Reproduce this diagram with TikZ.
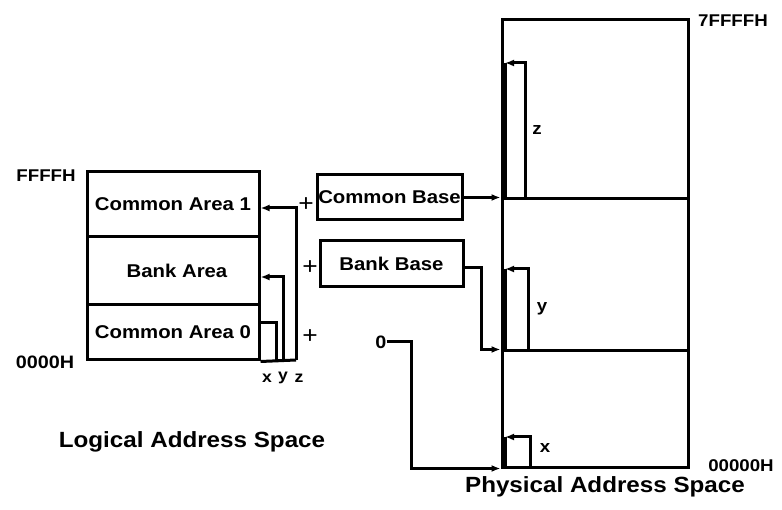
\documentclass[tikz,border=0pt]{standalone}
\usepackage{fontspec}
\setmainfont{Liberation Sans}[FakeStretch=1.1]
\usetikzlibrary{arrows.meta}
\tikzset{
  ln/.style={line width=3pt},
  arr/.style={ln,-{Latex[length=9pt,width=7pt]}},
  area/.style={draw,ln,inner sep=0pt,minimum width=172pt,font=\fontsize{18.5}{20}\selectfont\bfseries},
  phys/.style={draw,ln,inner sep=0pt,minimum width=186pt},
  basebox/.style={draw,ln,inner sep=0pt,font=\fontsize{18.5}{20}\selectfont\bfseries},
  lbl/.style={inner sep=0pt,font=\fontsize{17}{19}\selectfont\bfseries},
  small/.style={inner sep=0pt,font=\fontsize{16}{18}\selectfont\bfseries},
  title/.style={inner sep=0pt,anchor=base,font=\fontsize{22}{24}\selectfont\bfseries},
  plus/.style={inner sep=0pt,font=\fontsize{24}{26}\selectfont}
}
\begin{document}
\begin{tikzpicture}[x=1pt,y=-1pt]
\useasboundingbox (0,0) rectangle (782,510);
% logical space
\node[area,minimum height=65pt] (ca1) at (173,204.5) {Common Area 1};
\node[area,minimum height=68pt] (bank) at (173,271) {\hspace{8pt}Bank Area};
\node[area,minimum height=55pt] (ca0) at (173,332.5) {Common Area 0};
\node[lbl] (ffff) at (46,176) {FFFFH};
\node[lbl,font=\fontsize{18}{20}\selectfont\bfseries] (lo) at (45,362) {0000H};
\coordinate (xb) at (276,360);
\coordinate (yb) at (283,360);
\coordinate (zb) at (296,360);
\draw[ln] (ca0.south east) -- (zb);
\draw[ln] (xb) |- ([yshift=9.5pt]ca0.east);
\draw[arr] (yb) |- ([yshift=-6pt]bank.east);
\draw[arr] (zb) |- ([yshift=-3.5pt]ca1.east);
\node[small] (lx) at (267,378) {x};
\node[small] (ly) at (283,378) {y};
\node[small] (lz) at (299,378) {z};
\node[title] (logt) at (192,448) {Logical Address Space};
% plus signs
\node[plus] (pl1) at (306,205) {+};
\node[plus] (pl2) at (310,268) {+};
\node[plus] (pl3) at (310,337) {+};
% base registers
\node[basebox,minimum width=145pt,minimum height=45pt] (cb) at (389.5,197.5) {Common Base};
\node[basebox,minimum width=143pt,minimum height=46pt] (bb) at (391.5,264) {Bank Base};
\node[lbl,font=\fontsize{18}{20}\selectfont\bfseries] (zero) at (381,342) {0};
% physical space
\node[phys,minimum height=179pt] (p2) at (595,109.5) {};
\node[phys,minimum height=152pt] (p1) at (595,275) {};
\node[phys,minimum height=116pt] (p0) at (595,409) {};
\node[lbl] (top) at (733,21) {7FFFFH};
\node[lbl] (bot) at (741,466) {00000H};
\node[title] (phyt) at (605,493) {Physical Address Space};
% connectors into physical space
\draw[arr] (cb.east |- p1.north west) -- (p1.north west);
\draw[arr] ([yshift=-4pt]bb.east) -- ++(17,0) |- (p0.north west);
\draw[arr] (zero.east) -- ++(25,0) |- (p0.south west);
% offsets in physical space
\coordinate (pz) at (525,199);
\coordinate (pzt) at (505,63);
\coordinate (py) at (528,351);
\coordinate (pyt) at (505,269);
\coordinate (px) at (530,467);
\coordinate (pxt) at (505,437);
\draw[arr] (pz) |- (pzt);
\draw[ln] (pzt) -- (pzt |- pz);
\draw[arr] (py) |- (pyt);
\draw[ln] (pyt) -- (pyt |- py);
\draw[arr] (px) |- (pxt);
\draw[ln] (pxt) -- (pxt |- px);
\node[lbl] (rz) at (537,130) {z};
\node[lbl] (ry) at (542,309) {y};
\node[lbl] (rx) at (545,448) {x};
\end{tikzpicture}
\end{document}
